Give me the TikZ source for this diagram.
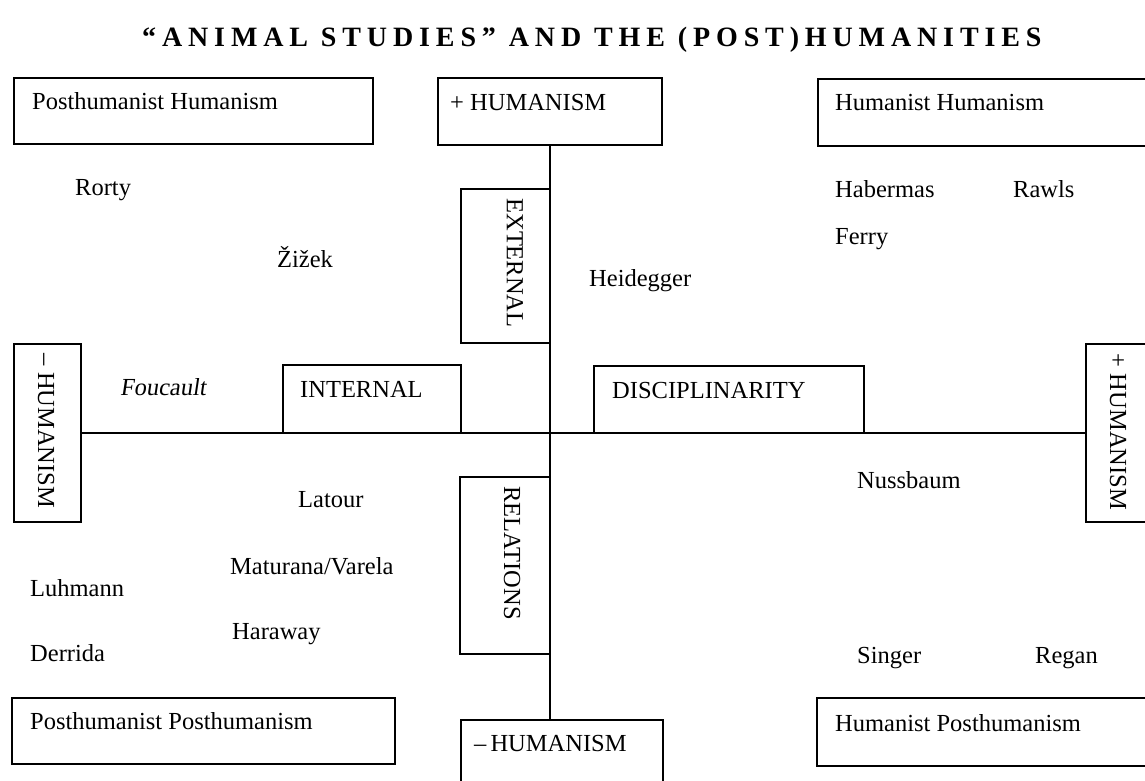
\documentclass[tikz,border=0pt]{standalone}
\usepackage{fontspec}
\setmainfont{Liberation Serif}
\newfontfamily\slantfont[FakeSlant=0.15]{Liberation Serif}
\newfontfamily\titlefont[LetterSpace=21]{Liberation Serif}
\newcommand{\bodysize}{\fontsize{24.5}{29}\selectfont}
\begin{document}
\begin{tikzpicture}[x=1pt,y=-1pt,
  frame/.style={draw, line width=1.6pt, inner sep=0pt, anchor=north west},
  txt/.style={anchor=base west, inner sep=0pt, font=\bodysize},
  vtxt/.style={rotate=-90, inner sep=0pt, font=\bodysize},
  axisline/.style={line width=1.6pt}]
\useasboundingbox (0,0) rectangle (1145,780);
\fill[white] (0,0) rectangle (1145,780);

% title
\node[anchor=base west, inner sep=0pt, font=\titlefont\bfseries\fontsize{28}{32}\selectfont] (title) at (142,46) {“ANIMAL STUDIES” AND THE (POST)HUMANITIES};

% boxes
\node[frame, minimum width=359pt, minimum height=66pt] (ph) at (13,77) {};
\node[frame, minimum width=224pt, minimum height=67pt] (hplus) at (437,77) {};
\node[frame, minimum width=340pt, minimum height=67pt] (hh) at (817,78) {};
\node[frame, minimum width=89pt, minimum height=154pt] (ext) at (460,188) {};
\node[frame, minimum width=178pt, minimum height=68pt] (int) at (282,364) {};
\node[frame, minimum width=270pt, minimum height=67pt] (disc) at (593,365) {};
\node[frame, minimum width=67pt, minimum height=178pt] (hleft) at (13,343) {};
\node[frame, minimum width=67pt, minimum height=178pt] (hright) at (1085,343) {};
\node[frame, minimum width=90pt, minimum height=177pt] (rel) at (459,476) {};
\node[frame, minimum width=383pt, minimum height=66pt] (pp) at (11,697) {};
\node[frame, minimum width=202pt, minimum height=80pt] (hminus) at (460,719) {};
\node[frame, minimum width=340pt, minimum height=68pt] (hp) at (816,697) {};

% axes
\draw[axisline] (hplus.south) -- (hplus.south |- hminus.north);
\draw[axisline] (hleft.east) -- (hleft.east -| hright.west);

% box labels
\node[txt] (tph) at (32,109) {Posthumanist Humanism};
\node[txt] (thplus) at (450,110) {+ HUMANISM};
\node[txt] (thh) at (835,110) {Humanist Humanism};
\node[txt] (tint) at (300,397) {INTERNAL};
\node[txt] (tdisc) at (612,398) {DISCIPLINARITY};
\node[txt] (tpp) at (30,729) {Posthumanist Posthumanism};
\node[txt] (thminus) at (474,751) {–\,HUMANISM};
\node[txt] (thp) at (835,731) {Humanist Posthumanism};
\node[vtxt] (text) at (515,263) {EXTERNAL};
\node[vtxt] (trel) at (512,553) {RELATIONS};
\node[vtxt] (thleft) at (46,431) {– HUMANISM};
\node[vtxt] (thright) at (1118,432) {+ HUMANISM};

% names
\node[txt] (rorty) at (75,195) {Rorty};
\node[txt] (zizek) at (277,267) {Žižek};
\node[txt] (habermas) at (835,197) {Habermas};
\node[txt] (rawls) at (1013,197) {Rawls};
\node[txt] (ferry) at (835,244) {Ferry};
\node[txt] (heidegger) at (589,286) {Heidegger};
\node[txt, font=\slantfont\bodysize] (foucault) at (120,395) {Foucault};
\node[txt] (nussbaum) at (857,488) {Nussbaum};
\node[txt] (latour) at (298,507) {Latour};
\node[txt] (maturana) at (230,574) {Maturana/Varela};
\node[txt] (luhmann) at (30,596) {Luhmann};
\node[txt] (haraway) at (232,639) {Haraway};
\node[txt] (derrida) at (30,661) {Derrida};
\node[txt] (singer) at (857,663) {Singer};
\node[txt] (regan) at (1035,663) {Regan};
\end{tikzpicture}
\end{document}
